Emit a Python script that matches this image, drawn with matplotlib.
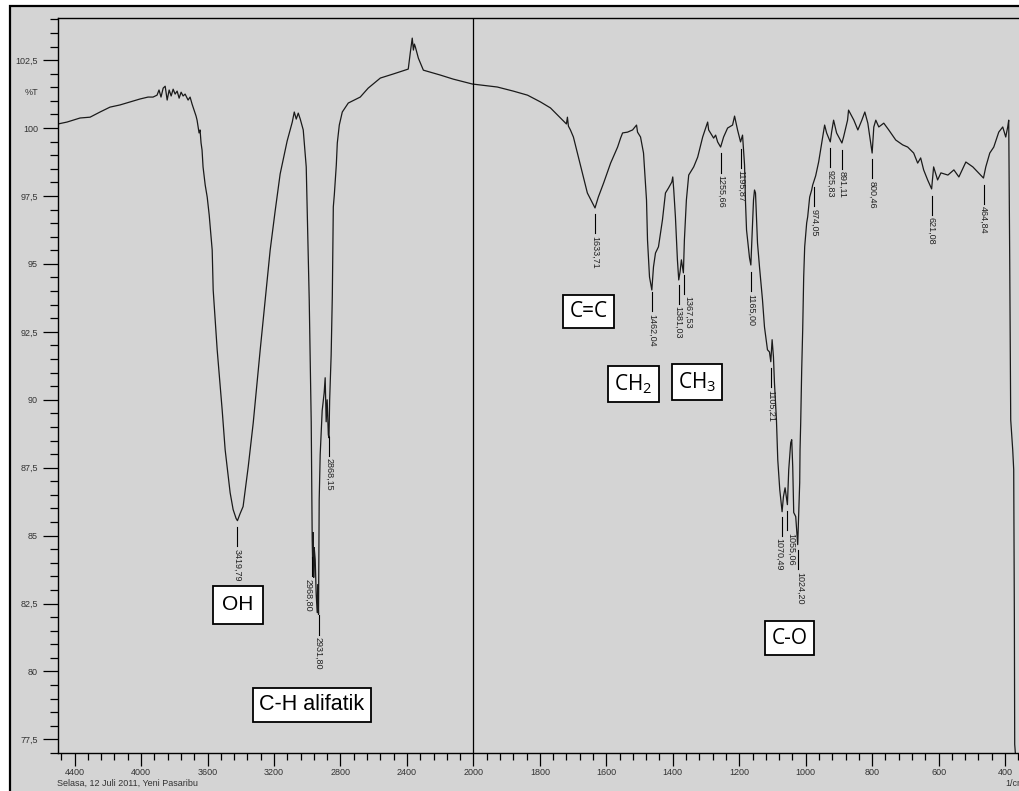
import numpy as np
import matplotlib
matplotlib.use("Agg")
import matplotlib.pyplot as plt
from matplotlib.patches import Rectangle

plt.rcParams['font.family'] = ['Liberation Sans', 'DejaVu Sans']
plt.rcParams['font.size'] = 6.5
plt.rcParams['mathtext.fontset'] = 'custom'
plt.rcParams['mathtext.rm'] = 'Open Sans'
plt.rcParams['mathtext.it'] = 'Open Sans:italic'

# spectrum: wavenumber (1/cm) and transmittance (%T)
wavenumber = [4500, 4446, 4367, 4307, 4247, 4187, 4127, 4066, 4006, 3958, 3928,
              3904, 3892, 3880, 3867, 3855, 3843, 3831, 3819, 3807, 3795, 3783,
              3771, 3759, 3747, 3735, 3717, 3705, 3693, 3681, 3669, 3663, 3651,
              3645, 3639, 3633, 3627, 3614, 3602, 3590, 3572, 3566, 3542, 3512,
              3494, 3464, 3446, 3428, 3420, 3404, 3386, 3355, 3325, 3283, 3253,
              3223, 3193, 3163, 3121, 3090, 3078, 3066, 3054, 3042, 3024, 3006,
              3000, 2988, 2976, 2970, 2967, 2964, 2961, 2958, 2952, 2946, 2940,
              2937, 2932, 2928, 2922, 2910, 2898, 2892, 2886, 2880, 2873, 2869,
              2865, 2856, 2849, 2843, 2837, 2825, 2819, 2807, 2789, 2753, 2681,
              2633, 2560, 2482, 2392, 2380, 2368, 2361, 2355, 2349, 2331, 2301,
              2199, 2121, 2006, 1928, 1880, 1837, 1798, 1768, 1738, 1720, 1717,
              1714, 1708, 1699, 1687, 1672, 1657, 1634, 1624, 1608, 1587, 1566,
              1557, 1551, 1536, 1521, 1509, 1506, 1497, 1488, 1479, 1476, 1470,
              1463, 1458, 1452, 1443, 1431, 1422, 1413, 1403, 1400, 1397, 1392,
              1386, 1382, 1378, 1374, 1368, 1365, 1359, 1352, 1337, 1325, 1310,
              1298, 1295, 1292, 1277, 1271, 1265, 1256, 1247, 1235, 1220, 1214,
              1205, 1196, 1190, 1184, 1181, 1178, 1169, 1165, 1161, 1157, 1154,
              1151, 1145, 1139, 1130, 1124, 1115, 1109, 1105, 1101, 1097, 1094,
              1088, 1084, 1078, 1071, 1067, 1062, 1055, 1051, 1045, 1042, 1039,
              1036, 1030, 1024, 1018, 1017, 1015, 1012, 1009, 1006, 1003, 997,
              994, 988, 982, 979, 970, 961, 949, 943, 937, 926, 922, 916, 907,
              891, 886, 874, 871, 855, 843, 831, 822, 813, 800, 795, 789, 780,
              765, 750, 729, 708, 693, 675, 663, 654, 645, 633, 621, 618, 615,
              603, 593, 572, 554, 539, 518, 497, 482, 465, 458, 446, 434, 419,
              407, 398, 392, 389, 386, 383, 377, 374, 372, 371, 366]
transmittance = [100.15, 100.22, 100.37, 100.40, 100.59, 100.77, 100.85, 100.96,
                 101.07, 101.14, 101.14, 101.21, 101.40, 101.14, 101.47, 101.54,
                 101.03, 101.40, 101.18, 101.43, 101.25, 101.36, 101.10, 101.32,
                 101.18, 101.25, 101.03, 101.14, 100.88, 100.66, 100.44, 100.29,
                 99.82, 99.93, 99.45, 99.19, 98.57, 97.90, 97.46, 96.80, 95.51,
                 94.04, 91.84, 89.63, 88.16, 86.58, 85.96, 85.63, 85.55, 85.81,
                 86.07, 87.54, 89.15, 91.84, 93.68, 95.51, 96.95, 98.31, 99.52,
                 100.22, 100.59, 100.33, 100.55, 100.33, 99.93, 98.57, 96.95,
                 93.68, 89.19, 84.82, 83.93, 85.11, 83.46, 84.56, 84.12, 82.83,
                 82.17, 83.20, 82.10, 86.32, 87.98, 89.60, 90.26, 90.81, 89.19,
                 90.00, 88.71, 88.60, 90.00, 91.65, 93.82, 97.10, 97.54, 98.64,
                 99.45, 100.11, 100.59, 100.92, 101.14, 101.47, 101.84, 101.99,
                 102.17, 102.76, 103.31, 102.87, 103.09, 102.98, 102.57, 102.13,
                 101.95, 101.80, 101.62, 101.51, 101.36, 101.21, 100.96, 100.74,
                 100.37, 100.15, 100.40, 100.07, 99.93, 99.67, 99.08, 98.35, 97.61,
                 97.06, 97.46, 97.98, 98.71, 99.30, 99.63, 99.82, 99.85, 99.93,
                 100.11, 99.85, 99.67, 99.08, 97.35, 95.88, 94.52, 94.04, 94.89,
                 95.40, 95.63, 96.62, 97.61, 97.79, 98.01, 98.20, 97.72, 96.73,
                 95.15, 94.41, 94.71, 95.15, 94.67, 95.88, 97.35, 98.27, 98.57,
                 98.93, 99.67, 100.11, 100.22, 99.93, 99.63, 99.74, 99.49, 99.30,
                 99.67, 100.00, 100.11, 100.44, 99.93, 99.49, 99.74, 98.64, 97.24,
                 96.25, 95.22, 94.96, 96.14, 97.35, 97.72, 97.61, 95.77, 94.89,
                 93.68, 92.68, 91.84, 91.76, 91.40, 92.21, 91.58, 90.63, 89.26,
                 87.79, 86.69, 85.88, 86.43, 86.76, 86.14, 87.43, 88.42, 88.53,
                 87.54, 85.85, 85.70, 84.67, 86.95, 88.16, 89.15, 91.10, 92.57,
                 94.52, 95.63, 96.51, 96.73, 97.46, 97.72, 97.90, 98.24, 98.75,
                 99.67, 100.11, 99.82, 99.49, 99.85, 100.29, 99.82, 99.45, 99.67,
                 100.29, 100.66, 100.29, 99.93, 100.29, 100.59, 100.18, 99.08,
                 100.04, 100.29, 100.04, 100.18, 99.93, 99.56, 99.38, 99.30, 99.08,
                 98.71, 98.90, 98.46, 98.09, 97.76, 98.16, 98.57, 98.09, 98.35,
                 98.27, 98.46, 98.20, 98.75, 98.57, 98.38, 98.16, 98.57, 99.08,
                 99.30, 99.85, 100.04, 99.67, 100.04, 100.29, 95.15, 89.26, 88.16,
                 87.43, 81.91, 77.32, 76.5]

# labelled peaks
peak_wn = [3419.79, 2968.80, 2931.80, 2868.15, 1633.71, 1462.04, 1381.03,
           1367.53, 1255.66, 1195.87, 1165.00, 1105.21, 1070.49, 1055.06,
           1024.20, 974.05, 925.83, 891.11, 800.46, 621.08, 464.84]
peak_txt = ["3419,79", "2968,80", "2931,80", "2868,15", "1633,71", "1462,04",
            "1381,03", "1367,53", "1255,66", "1195,87", "1165,00", "1105,21",
            "1070,49", "1055,06", "1024,20", "974,05", "925,83", "891,11",
            "800,46", "621,08", "464,84"]

y_major = [77.5, 80, 82.5, 85, 87.5, 90, 92.5, 95, 97.5, 100, 102.5]
y_major_txt = ["77,5", "80", "82,5", "85", "87,5", "90", "92,5", "95", "97,5",
               "100", "102,5"]
x_major = [4400, 4000, 3600, 3200, 2800, 2400, 2000, 1800, 1600, 1400, 1200,
           1000, 800, 600, 400]

# small sideways nudges (points) where peak labels crowd each other
nudge = {"2968,80": -3.0, "1381,03": -1.0, "1367,53": 3.0, "1070,49": -2.0,
         "1055,06": 2.5, "1024,20": 2.0}


def fwd(x):
    x = np.asarray(x, float)
    return np.where(x > 2000, 2000 + (x - 2000) / 2, x)


def inv(u):
    u = np.asarray(u, float)
    return np.where(u > 2000, 2000 + (u - 2000) * 2, u)


W, H = 1019, 791
fig = plt.figure(figsize=(W / 100, H / 100), dpi=100, facecolor='white')
frame = Rectangle((9.5 / W, -0.02), 1.05, 1 - 5.5 / H + 0.02,
                  transform=fig.transFigure, facecolor='#d4d4d4',
                  edgecolor='black', lw=1.6, zorder=-10)
fig.patches.append(frame)

ax = fig.add_axes([58 / W, 1 - 753 / H, (W - 58) / W + 0.001, 735 / H])
ax.set_zorder(1)
ax.set_facecolor('#d4d4d4')
ax.set_xscale('function', functions=(fwd, inv))
ax.set_xlim(4500, 355)
ax.set_ylim(77.0, 104.05)

wn = np.array(wavenumber)
tr = np.array(transmittance)
ax.plot(wn, tr, color='#1a1a1a', lw=0.9)
ax.axvline(2000, color='black', lw=0.9)

order = np.argsort(wn)
for p, txt in zip(peak_wn, peak_txt):
    t = np.interp(p, wn[order], tr[order])
    ax.plot([p, p], [t - 0.25, t - 0.95], color='black', lw=0.8)
    ax.annotate(txt, xy=(p, t - 1.05), xytext=(nudge.get(txt, 0), 0),
                textcoords='offset points', rotation=270, ha='center', va='top',
                fontsize=6.5, color='#222222')

# functional group boxes
box = dict(boxstyle='square,pad=0.3', facecolor='white', edgecolor='black', lw=1.3)
ax.text(3419, 82.46, "OH", fontsize=15, ha='center', va='center',
        bbox=dict(boxstyle='square,pad=0.45', facecolor='white', edgecolor='black', lw=1.3))
ax.text(2973, 78.77, "C-H alifatik", fontsize=15.5, ha='center', va='center', bbox=box)
ax.text(1654, 93.24, "C=C", fontsize=15, family='Open Sans', ha='center', va='center', bbox=box)
ax.text(1518, 90.59, r"CH$_2$", fontsize=15, family='Open Sans', ha='center', va='center', bbox=box)
ax.text(1327, 90.64, r"CH$_3$", fontsize=15, family='Open Sans', ha='center', va='center', bbox=box)
ax.text(1048, 81.23, "C-O", fontsize=15, family='Open Sans', ha='center', va='center', bbox=box)

ax.set_yticks(y_major, y_major_txt)
ax.set_yticks(np.arange(77.0, 104.01, 0.5), minor=True)
ax.set_xticks(x_major, [str(v) for v in x_major])
ax.set_xticks(list(range(4480, 2000, -80)) + list(range(2000, 355, -40)), minor=True)
ax.tick_params(axis='y', which='major', direction='out', length=10.8, width=0.9,
               pad=3.6, labelcolor='#333333')
ax.tick_params(axis='y', which='minor', direction='out', length=5.8, width=0.9)
ax.tick_params(axis='x', which='major', direction='out', length=9.4, width=0.9,
               pad=1.5, labelcolor='#333333')
ax.tick_params(axis='x', which='minor', direction='out', length=5.0, width=0.9)
for s in ['left', 'top', 'bottom']:
    ax.spines[s].set_linewidth(1.0)
ax.spines['right'].set_visible(False)

ax.annotate('%T', xy=(0, 101.3), xycoords=('axes fraction', 'data'),
            xytext=(-14.5, 0), textcoords='offset points', ha='right', va='center',
            fontsize=6.5, color='#333333', annotation_clip=False)

fig.text(57 / W, 1 - 783 / H, "Selasa, 12 Juli 2011, Yeni Pasaribu", fontsize=6.5,
         ha='left', va='center', color='#333333')
fig.text(1005 / W, 1 - 783 / H, "1/cm", fontsize=6.5, ha='left', va='center',
         color='#333333')

fig.savefig('out.png', dpi=100, facecolor=fig.get_facecolor())
